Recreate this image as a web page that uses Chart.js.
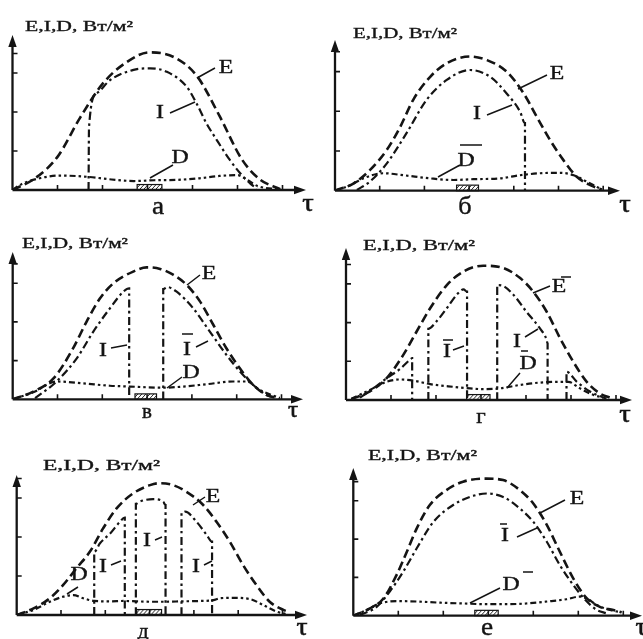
<!DOCTYPE html>
<html><head><meta charset="utf-8">
<script src="https://cdn.jsdelivr.net/npm/chart.js@4.4.1/dist/chart.umd.min.js"></script>
<style>
html,body{margin:0;padding:0;background:#fff;}
#wrap{position:relative;width:643px;height:639px;overflow:hidden;background:#fff;}
#wrap canvas{position:absolute;left:0;top:0;}
</style></head><body><div id="wrap"></div>
<script>
// ---------- data (x in τ units, y in E,I,D units) ----------
const xTicks = [1, 2, 3, 4, 5, 6];
const yTicks = [1, 2, 3, 3.5];
const panelLetters = ['а', 'б', 'в', 'г', 'д', 'е'];
const axisTitle = 'E,I,D, Вт/м²';
const hatchFrom = [2.77, 2.72, 2.73, 2.68, 2.71, 2.70];
const hatchTo   = [3.32, 3.21, 3.21, 3.20, 3.27, 3.22];

// panel а
const aEx = [0, 0.5, 1, 1.5, 2, 2.5, 3.05, 3.6, 4.1, 4.6, 5.1, 5.5, 5.95];
const aEy = [0, 0.3, 0.85, 1.85, 2.72, 3.25, 3.53, 3.4, 2.92, 1.9, 0.78, 0.27, 0.02];
const aIx = [1.69, 1.7, 1.87, 2.17, 2.69, 3.06, 3.43, 3.87, 4.09, 4.31, 4.54, 4.83, 5.06, 5.28, 5.43];
const aIy = [0, 1.6, 2.48, 2.82, 3.08, 3.12, 3.03, 2.65, 2.22, 1.71, 1.28, 0.77, 0.43, 0.17, 0.04];
const aDx = [0, 0.2, 0.6, 1.05, 1.65, 2.2, 2.7, 3.15, 3.65, 4.15, 4.6, 5.0, 5.2, 5.45, 5.95];
const aDy = [0, 0.15, 0.3, 0.37, 0.34, 0.27, 0.23, 0.25, 0.26, 0.3, 0.36, 0.38, 0.27, 0.1, 0.02];

// panel б
const bEx = [0, 0.41, 0.78, 1.16, 1.46, 1.75, 2.13, 2.5, 3.02, 3.4, 3.84, 4.22, 4.51, 4.81, 5.11, 5.41, 5.71, 5.97];
const bEy = [0, 0.18, 0.52, 1.03, 1.61, 2.29, 2.87, 3.21, 3.38, 3.29, 3.0, 2.45, 1.87, 1.28, 0.77, 0.35, 0.14, 0.03];
const bIx = [0.49, 0.78, 1.16, 1.6, 2.05, 2.5, 3.02, 3.47, 3.84, 4.14, 4.25, 4.25];
const bIy = [0.02, 0.23, 0.69, 1.45, 2.29, 2.79, 3.04, 2.87, 2.45, 1.99, 1.7, 0];
const bDx = [0, 0.34, 0.63, 1.08, 1.53, 2.13, 2.65, 3.1, 3.69, 4.14, 4.59, 5.04, 5.34, 5.63, 5.97];
const bDy = [0, 0.14, 0.31, 0.44, 0.39, 0.31, 0.27, 0.29, 0.31, 0.39, 0.44, 0.45, 0.39, 0.23, 0.03];

// panel в
const vEx = [0, 0.46, 0.91, 1.35, 1.65, 1.95, 2.25, 2.69, 2.99, 3.29, 3.58, 3.88, 4.18, 4.48, 4.77, 5.07, 5.37, 5.67, 5.96];
const vEy = [0, 0.2, 0.54, 1.32, 2.01, 2.61, 3.0, 3.3, 3.41, 3.37, 3.22, 2.96, 2.53, 1.92, 1.32, 0.8, 0.37, 0.11, 0.03];
const vIx = [0.5, 0.98, 1.43, 1.8, 2.17, 2.47, 2.6, 2.6, null, 3.36, 3.36, 3.45, 3.66, 4.03, 4.4, 4.77, 5.07, 5.37, 5.67, 5.89];
const vIy = [0.03, 0.46, 1.06, 1.75, 2.35, 2.78, 2.87, 0, null, 0, 2.85, 2.9, 2.78, 2.35, 1.75, 1.15, 0.72, 0.37, 0.11, 0.03];
const vDx = [0, 0.46, 0.98, 1.58, 2.17, 2.62, 2.99, 3.36, 3.81, 4.33, 4.92, 5.22, 5.52, 5.96];
const vDy = [0, 0.18, 0.46, 0.41, 0.35, 0.33, 0.31, 0.3, 0.33, 0.39, 0.46, 0.46, 0.24, 0.03];

// panel г
const gEx = [0.12, 0.53, 0.9, 1.27, 1.57, 1.87, 2.24, 2.61, 3.05, 3.5, 3.87, 4.16, 4.46, 4.76, 5.05, 5.35, 5.64, 5.87];
const gEy = [0.02, 0.22, 0.56, 1.16, 1.77, 2.37, 2.97, 3.32, 3.47, 3.41, 3.15, 2.8, 2.28, 1.59, 0.99, 0.47, 0.17, 0.06];
const gIx = [0.31, 0.61, 0.9, 1.2, 1.44, 1.47, 1.47, null, 1.83, 1.83, 2.01, 2.24, 2.46, 2.61, 2.69, 2.69, null, 3.36, 3.36, 3.46, 3.72, 4.01, 4.31, 4.46, 4.48, 4.48, null, 4.9, 4.9, 5.13, 5.42, 5.72];
const gIy = [0.06, 0.3, 0.56, 0.8, 1.06, 1.08, 0, null, 0, 1.84, 2.03, 2.37, 2.72, 2.86, 2.8, 0, null, 0, 2.97, 2.96, 2.72, 2.28, 1.85, 1.55, 1.45, 0, null, 0, 0.73, 0.47, 0.22, 0.06];
const gDx = [0.12, 0.53, 0.9, 1.2, 1.5, 1.87, 2.39, 2.76, 3.05, 3.42, 3.87, 4.31, 4.76, 4.94, 5.2, 5.5, 5.79];
const gDy = [0.03, 0.26, 0.47, 0.53, 0.5, 0.41, 0.34, 0.3, 0.28, 0.3, 0.39, 0.45, 0.47, 0.47, 0.3, 0.13, 0.04];

// panel д
const dEx = [0, 0.38, 0.75, 1.05, 1.35, 1.65, 1.95, 2.26, 2.63, 3.01, 3.23, 3.53, 3.83, 4.21, 4.51, 4.81, 5.11, 5.41, 5.71, 6.02, 6.17];
const dEy = [0, 0.17, 0.43, 0.77, 1.2, 1.62, 2.22, 2.74, 3.12, 3.33, 3.38, 3.33, 3.16, 2.82, 2.39, 1.88, 1.28, 0.77, 0.34, 0.13, 0.07];
const dIx = [1.75, 1.75, 1.88, 2.11, 2.33, 2.44, 2.44, null, 2.69, 2.69, 2.78, 3.08, 3.31, 3.36, 3.36, null, 3.72, 3.72, 3.8, 4.06, 4.29, 4.41, 4.41];
const dIy = [0, 1.62, 1.84, 2.09, 2.39, 2.5, 0, null, 0, 2.85, 2.91, 2.97, 2.9, 2.82, 0, null, 0, 2.61, 2.65, 2.39, 2.05, 1.88, 0];
const dDx = [0, 0.38, 0.75, 1.05, 1.28, 1.5, 1.75, 2.11, 2.41, 2.71, 3.01, 3.38, 3.72, 4.14, 4.44, 4.59, 4.89, 5.26, 5.56, 5.86, 6.09];
const dDy = [0, 0.13, 0.34, 0.47, 0.51, 0.43, 0.36, 0.35, 0.36, 0.35, 0.34, 0.34, 0.35, 0.36, 0.38, 0.43, 0.44, 0.41, 0.26, 0.09, 0.02];

// panel е
const eEx = [0, 0.37, 0.67, 0.96, 1.19, 1.41, 1.7, 2.07, 2.44, 2.96, 3.33, 3.7, 4.0, 4.3, 4.59, 4.89, 5.19, 5.48, 5.78, 5.96];
const eEy = [0, 0.19, 0.45, 1.06, 1.67, 2.28, 2.89, 3.28, 3.5, 3.58, 3.54, 3.28, 2.93, 2.37, 1.67, 0.97, 0.45, 0.23, 0.15, 0.09];
const eIx = [0.15, 0.52, 0.81, 1.11, 1.41, 1.78, 2.22, 2.59, 2.96, 3.33, 3.7, 4.0, 4.3, 4.59, 4.89, 5.19, 5.41, 5.63];
const eIy = [0.02, 0.23, 0.63, 1.15, 1.76, 2.45, 2.89, 3.1, 3.19, 3.1, 2.8, 2.45, 1.93, 1.32, 0.8, 0.37, 0.15, 0.06];
const eDx = [0, 0.3, 0.59, 0.96, 1.41, 1.93, 2.44, 2.96, 3.41, 3.85, 4.3, 4.74, 5.04, 5.19, 5.41, 5.7, 5.96];
const eDy = [0, 0.15, 0.32, 0.38, 0.37, 0.34, 0.32, 0.3, 0.3, 0.32, 0.37, 0.43, 0.5, 0.45, 0.28, 0.15, 0.09];

// ---------- layout ----------
const W = 643, H = 639;
const INK = '#141414';
const SERIF = '"Liberation Serif","Times New Roman",serif';

const panels = [
  { ox: 12.5, oy: 190, ux: 45, uy: 39, ax: 306, ay: 35, E: [aEx, aEy], I: [aIx, aIy], D: [aDx, aDy],
    title: [25, 31, 108], letter: [158, 207, 26], tau: [308, 204, 26],
    labels: [['E', 226, 68], ['I', 160, 113], ['D', 180, 158]],
    bars: [], leaders: [[197, 78, 215, 68], [170, 113, 195, 102], [150, 178, 173, 165]] },
  { ox: 335, oy: 190.7, ux: 44.7, uy: 39.7, ax: 620, ay: 40, E: [bEx, bEy], I: [bIx, bIy], D: [bDx, bDy],
    title: [353, 38, 104], letter: [465, 207, 25], tau: [625, 205, 26],
    labels: [['E', 557, 74], ['I', 477, 114], ['D', 466, 161]],
    bars: [[460, 482, 145]], leaders: [[518, 89, 547, 75], [487, 115, 512, 105], [438, 177, 460, 165]] },
  { ox: 12.7, oy: 399.3, ux: 44.8, uy: 38.7, ax: 303, ay: 252, E: [vEx, vEy], I: [vIx, vIy], D: [vDx, vDy],
    title: [22, 248, 106], letter: [147, 413, 20], tau: [293, 411, 23],
    labels: [['E', 209, 274], ['I', 103, 351], ['I', 187, 350], ['D', 191, 373]],
    bars: [[182, 193, 334]], leaders: [[187, 285, 200, 275], [111, 348, 127, 345], [196, 347, 208, 341], [167, 388, 182, 377]] },
  { ox: 346, oy: 400, ux: 45, uy: 38.7, ax: 632, ay: 248, E: [gEx, gEy], I: [gIx, gIy], D: [gDx, gDy],
    title: [363, 250, 112], letter: [481, 417, 22], tau: [625, 415, 26],
    labels: [['E', 559, 287], ['I', 447, 352], ['I', 517, 342], ['D', 528, 364]],
    bars: [[561, 571, 277], [443, 453, 340], [521, 528, 351]], leaders: [[533, 293, 550, 286], [453, 350, 464, 346], [525, 337, 538, 329], [507, 388, 520, 373]] },
  { ox: 16.7, oy: 615, ux: 44.3, uy: 39, ax: 307, ay: 475, E: [dEx, dEy], I: [dIx, dIy], D: [dDx, dDy],
    title: [43, 470, 117], letter: [143, 632, 21], tau: [302, 628, 25],
    labels: [['E', 213, 497], ['I', 147, 541], ['I', 103, 567], ['I', 196, 567], ['D', 79, 575]],
    bars: [], leaders: [[193, 505, 205, 497], [155, 540, 162, 537], [111, 565, 121, 561], [204, 565, 212, 561], [67, 594, 78, 587]] },
  { ox: 353.3, oy: 615.7, ux: 45, uy: 38.3, ax: 642, ay: 468, E: [eEx, eEy], I: [eIx, eIy], D: [eDx, eDy],
    title: [368, 460, 109], letter: [487, 628, 26], tau: [641, 628, 25],
    labels: [['E', 577, 499], ['I', 505, 536], ['D', 511, 585]],
    bars: [[500, 507, 524], [523, 533, 572]], leaders: [[540, 513, 565, 500], [517, 537, 537, 528], [470, 603, 500, 588]] }
];

function pts(xs, ys) {
  let lastX = 0;
  return xs.map((v, i) => {
    if (v !== null) lastX = v;
    return { x: v === null ? lastX : v, y: ys[i] };
  });
}

function drawText(ctx, s, cx, cy, size, sx, bold) {
  ctx.save();
  ctx.font = size + 'px ' + SERIF;
  ctx.textBaseline = 'middle';
  ctx.textAlign = 'center';
  ctx.translate(cx, cy);
  ctx.scale(sx, 1);
  ctx.fillText(s, 0, 0);
  if (bold) { ctx.lineWidth = bold; ctx.strokeText(s, 0, 0); }
  ctx.restore();
}

const framePlugin = {
  id: 'frame',
  afterDatasetsDraw(chart) {
    const P = chart.options.plugins.frame;
    const { ctx, scales: { x, y } } = chart;
    const x0 = x.getPixelForValue(0), y0 = y.getPixelForValue(0);
    const xe = x.getPixelForValue(x.max), ye = y.getPixelForValue(y.max);
    ctx.save();
    ctx.strokeStyle = INK; ctx.fillStyle = INK; ctx.lineCap = 'butt';
    // axes
    ctx.lineWidth = 2.3;
    ctx.beginPath();
    ctx.moveTo(x0, y0); ctx.lineTo(xe - 8, y0);
    ctx.moveTo(x0, y0); ctx.lineTo(x0, ye + 8);
    ctx.stroke();
    ctx.beginPath(); ctx.moveTo(xe, y0); ctx.lineTo(xe - 12, y0 - 4.2); ctx.lineTo(xe - 12, y0 + 4.2); ctx.closePath(); ctx.fill();
    ctx.beginPath(); ctx.moveTo(x0, ye); ctx.lineTo(x0 - 4.2, ye + 12); ctx.lineTo(x0 + 4.2, ye + 12); ctx.closePath(); ctx.fill();
    // tick marks (inside)
    ctx.lineWidth = 1.6;
    ctx.beginPath();
    xTicks.forEach(v => { const p = x.getPixelForValue(v); ctx.moveTo(p, y0); ctx.lineTo(p, y0 - 5); });
    yTicks.forEach(v => { const p = y.getPixelForValue(v); ctx.moveTo(x0, p); ctx.lineTo(x0 + 5, p); });
    ctx.stroke();
    // hatched box on the axis
    const hx1 = x.getPixelForValue(hatchFrom[P.idx]), hx2 = x.getPixelForValue(hatchTo[P.idx]);
    const hy = y.getPixelForValue(0.14);
    ctx.lineWidth = 1.2;
    ctx.strokeRect(hx1, hy, hx2 - hx1, y0 - hy);
    ctx.save();
    ctx.beginPath(); ctx.rect(hx1, hy, hx2 - hx1, y0 - hy); ctx.clip();
    ctx.lineWidth = 0.9;
    ctx.beginPath();
    for (let k = hx1 - 10; k < hx2 + 10; k += 4) { ctx.moveTo(k, y0); ctx.lineTo(k + 5, hy); }
    ctx.stroke();
    ctx.restore();
    // texts
    const [tx, ty, tw] = P.title;
    ctx.save();
    ctx.font = '15px ' + SERIF;
    ctx.textBaseline = 'alphabetic'; ctx.textAlign = 'left';
    const m = ctx.measureText(axisTitle).width;
    ctx.translate(tx, ty); ctx.scale(tw / m, 1);
    ctx.fillText(axisTitle, 0, 0);
    ctx.lineWidth = 0.35; ctx.strokeText(axisTitle, 0, 0);
    ctx.restore();
    drawText(ctx, panelLetters[P.idx], P.letter[0], P.letter[1], P.letter[2], 1.05, 0.4);
    drawText(ctx, 'τ', P.tau[0], P.tau[1], P.tau[2], 1.1, 0.6);
    P.labels.forEach(l => drawText(ctx, l[0], l[1], l[2], 19, 1.25, 0.4));
    ctx.lineWidth = 1.5;
    ctx.beginPath();
    P.leaders.forEach(l => { ctx.moveTo(l[0], l[1]); ctx.lineTo(l[2], l[3]); });
    P.bars.forEach(b => { ctx.moveTo(b[0], b[2]); ctx.lineTo(b[1], b[2]); });
    ctx.stroke();
    ctx.restore();
  }
};

const wrap = document.getElementById('wrap');
panels.forEach((p, idx) => {
  const cv = document.createElement('canvas');
  cv.width = W; cv.height = H;
  cv.style.width = W + 'px'; cv.style.height = H + 'px';
  wrap.appendChild(cv);
  const common = { borderColor: INK, pointRadius: 0, fill: false, cubicInterpolationMode: 'monotone', spanGaps: false };
  new Chart(cv.getContext('2d'), {
    type: 'line',
    data: {
      datasets: [
        Object.assign({ label: 'E', data: pts(p.E[0], p.E[1]), borderWidth: 2.6, borderDash: [9, 4.5] }, common),
        Object.assign({ label: 'I', data: pts(p.I[0], p.I[1]), borderWidth: 2.2, borderDash: [8, 3.5, 2.5, 3.5] }, common),
        Object.assign({ label: 'D', data: pts(p.D[0], p.D[1]), borderWidth: 2.2, borderDash: [6, 3, 2.5, 3, 2.5, 3] }, common)
      ]
    },
    options: {
      responsive: false, animation: false, devicePixelRatio: 1,
      layout: { padding: { left: p.ox, top: p.ay, right: W - p.ax, bottom: H - p.oy } },
      scales: {
        x: { type: 'linear', display: false, min: 0, max: (p.ax - p.ox) / p.ux },
        y: { type: 'linear', display: false, min: 0, max: (p.oy - p.ay) / p.uy }
      },
      plugins: {
        legend: { display: false }, tooltip: { enabled: false },
        frame: Object.assign({ idx }, p)
      }
    },
    plugins: [framePlugin]
  });
});
</script>
</body></html>
